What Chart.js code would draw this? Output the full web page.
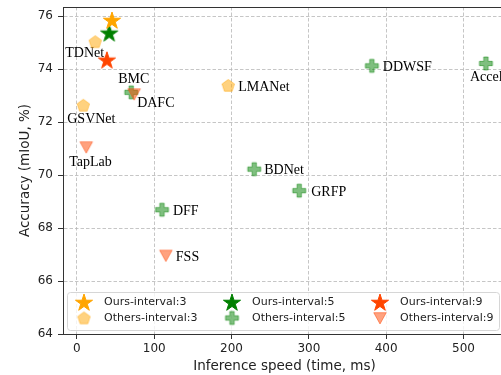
<!DOCTYPE html>
<html>
<head>
<meta charset="utf-8">
<script src="https://cdn.jsdelivr.net/npm/chart.js@4.4.0/dist/chart.umd.min.js"></script>
<style>
  html, body { margin: 0; padding: 0; overflow: hidden; background: #fff; }
  #wrap { width: 501px; height: 375px; overflow: hidden; }
</style>
</head>
<body>
<div id="wrap"><canvas id="chart" width="515" height="375"></canvas></div>
<script>
const xTicks = [0, 100, 200, 300, 400, 500];
const yTicks = [64, 66, 68, 70, 72, 74, 76];

const ours3Speed = [45.3];
const ours3Acc = [75.85];
const ours5Speed = [41.8];
const ours5Acc = [75.37];
const ours9Speed = [38.8];
const ours9Acc = [74.35];

const others3Names = ['TDNet', 'GSVNet', 'LMANet'];
const others3Speed = [23.7, 8.2, 195.7];
const others3Acc = [75.03, 72.63, 73.38];

const others5Names = ['BMC', 'DFF', 'BDNet', 'GRFP', 'DDWSF', 'Accel'];
const others5Speed = [70.2, 110, 229.3, 287.5, 381.5, 529];
const others5Acc = [73.12, 68.69, 70.22, 69.41, 74.12, 74.21];

const others9Names = ['DAFC', 'TapLab', 'FSS'];
const others9Speed = [74, 12, 115];
const others9Acc = [73.05, 71.05, 66.96];

// where each method name sits relative to its marker (px)
const labelOffset = {
  TDNet: [-30, 12], GSVNet: [-16, 14], LMANet: [10, 2],
  BMC: [-13, -13], DFF: [11, 2], BDNet: [10, 1], GRFP: [12, 2], DDWSF: [11, 1], Accel: [-16, 14],
  DAFC: [3, 9], TapLab: [-17, 15], FSS: [10, 2]
};

function marker(shape, fill, size) {
  const c = document.createElement('canvas');
  c.width = c.height = size + 4;
  const ctx = c.getContext('2d');
  const m = c.width / 2;
  ctx.translate(m, m);
  ctx.beginPath();
  const R = size / 2;
  if (shape === 'star') {
    const r = R * 0.381;
    for (let i = 0; i < 10; i++) {
      const rad = i % 2 ? r : R;
      const a = -Math.PI / 2 + i * Math.PI / 5;
      ctx.lineTo(rad * Math.cos(a), rad * Math.sin(a) + 1);
    }
  } else if (shape === 'pentagon') {
    for (let i = 0; i < 5; i++) {
      const a = -Math.PI / 2 + i * 2 * Math.PI / 5;
      ctx.lineTo(R * Math.cos(a), R * Math.sin(a) + 0.5);
    }
  } else if (shape === 'plus') {
    const w = size / 6;
    const pts = [[-w, -R], [w, -R], [w, -w], [R, -w], [R, w], [w, w], [w, R], [-w, R], [-w, w], [-R, w], [-R, -w], [-w, -w]];
    pts.forEach(p => ctx.lineTo(p[0], p[1]));
  } else {
    ctx.moveTo(-R, -R * 0.85);
    ctx.lineTo(R, -R * 0.85);
    ctx.lineTo(0, R * 0.95);
  }
  ctx.closePath();
  ctx.fillStyle = fill;
  ctx.fill();
  ctx.strokeStyle = fill;
  ctx.lineWidth = 1;
  ctx.stroke();
  return c;
}

function points(xs, ys) {
  return xs.map((x, i) => ({ x: x, y: ys[i] }));
}

const datasets = [
  { label: 'Ours-interval:3', data: points(ours3Speed, ours3Acc), pointStyle: marker('star', '#ffa500', 18), order: 0 },
  { label: 'Ours-interval:5', data: points(ours5Speed, ours5Acc), pointStyle: marker('star', '#008000', 18), order: 0 },
  { label: 'Ours-interval:9', data: points(ours9Speed, ours9Acc), pointStyle: marker('star', '#ff4500', 18), order: 0 },
  { label: 'Others-interval:3', data: points(others3Speed, others3Acc), names: others3Names, pointStyle: marker('pentagon', 'rgba(255,165,0,0.5)', 13), order: 3 },
  { label: 'Others-interval:5', data: points(others5Speed, others5Acc), names: others5Names, pointStyle: marker('plus', 'rgba(0,128,0,0.5)', 13), order: 2 },
  { label: 'Others-interval:9', data: points(others9Speed, others9Acc), names: others9Names, pointStyle: marker('tri', 'rgba(255,69,0,0.5)', 12.5), order: 1 }
];
datasets.forEach(d => { d.pointRadius = 6; d.pointHoverRadius = 6; });

const namesPlugin = {
  id: 'names',
  beforeDatasetsDraw(chart) {
    const { ctx, chartArea: a } = chart;
    ctx.save();
    // top spine (right one falls outside the picture)
    ctx.strokeStyle = '#333';
    ctx.lineWidth = 1;
    ctx.beginPath();
    ctx.moveTo(Math.round(a.left) + 0.5, Math.round(a.top) + 0.5);
    ctx.lineTo(Math.round(a.right) + 0.5, Math.round(a.top) + 0.5);
    ctx.stroke();
    ctx.font = '14px "Liberation Serif"';
    ctx.fillStyle = '#000';
    ctx.textAlign = 'left';
    ctx.textBaseline = 'middle';
    chart.data.datasets.forEach((ds, i) => {
      if (!ds.names) return;
      chart.getDatasetMeta(i).data.forEach((pt, j) => {
        const off = labelOffset[ds.names[j]];
        ctx.fillText(ds.names[j], pt.x + off[0], pt.y + off[1]);
      });
    });
    ctx.restore();
  }
};

const legendPlugin = {
  id: 'boxLegend',
  afterDatasetsDraw(chart) {
    const { ctx, chartArea: a } = chart;
    const left = a.left + 4, top = a.bottom - 42, w = 432, h = 38;
    ctx.save();
    ctx.beginPath();
    ctx.roundRect(left + 0.5, top + 0.5, w, h, 3);
    ctx.fillStyle = 'rgba(255,255,255,0.8)';
    ctx.fill();
    ctx.strokeStyle = '#d6d6d6';
    ctx.lineWidth = 1;
    ctx.stroke();
    ctx.font = '11px "DejaVu Sans"';
    ctx.fillStyle = '#222';
    ctx.textAlign = 'left';
    ctx.textBaseline = 'middle';
    chart.data.datasets.forEach((ds, i) => {
      const col = i % 3, row = Math.floor(i / 3);
      const mx = left + 17 + col * 148;
      const my = top + 10 + row * 16;
      const img = ds.pointStyle;
      ctx.drawImage(img, mx - img.width / 2, my - img.height / 2);
      ctx.fillText(ds.label, mx + 20, my + 0.5);
    });
    ctx.restore();
  }
};

const tickFont = { family: 'DejaVu Sans', size: 12 };
const titleFont = { family: 'DejaVu Sans', size: 13.5 };

new Chart(document.getElementById('chart'), {
  type: 'scatter',
  data: { datasets: datasets },
  options: {
    responsive: false,
    animation: false,
    layout: { padding: { left: 0, top: 6, right: 9, bottom: 0 } },
    plugins: { legend: { display: false }, tooltip: { enabled: false } },
    scales: {
      x: {
        type: 'linear',
        min: -18,
        max: 555,
        afterBuildTicks: s => { s.ticks = xTicks.map(v => ({ value: v })); },
        afterFit: s => { s.height = 41; s.paddingLeft = 0; s.paddingRight = 0; },
        ticks: { font: tickFont, color: '#222', padding: 3 },
        grid: { color: '#b8b8b8', lineWidth: 0.8, tickColor: '#333', tickLength: 5, tickWidth: 1 },
        border: { display: true, color: '#333', width: 1, dash: [3.5, 2] },
        title: { display: true, text: 'Inference speed (time, ms)', font: titleFont, color: '#222', padding: { top: 0, bottom: 0 } }
      },
      y: {
        type: 'linear',
        min: 64,
        max: 76.34,
        afterBuildTicks: s => { s.ticks = yTicks.map(v => ({ value: v })); },
        afterFit: s => { s.width = 63; s.paddingTop = 0; s.paddingBottom = 0; },
        ticks: { font: tickFont, color: '#222', padding: 5 },
        grid: { color: '#b8b8b8', lineWidth: 0.8, tickColor: '#333', tickLength: 5, tickWidth: 1 },
        border: { display: true, color: '#333', width: 1, dash: [3.5, 2] },
        title: { display: true, text: 'Accuracy (mIoU, %)', font: titleFont, color: '#222', padding: { top: 17, bottom: 0 } }
      }
    }
  },
  plugins: [namesPlugin, legendPlugin]
});
</script>
</body>
</html>
